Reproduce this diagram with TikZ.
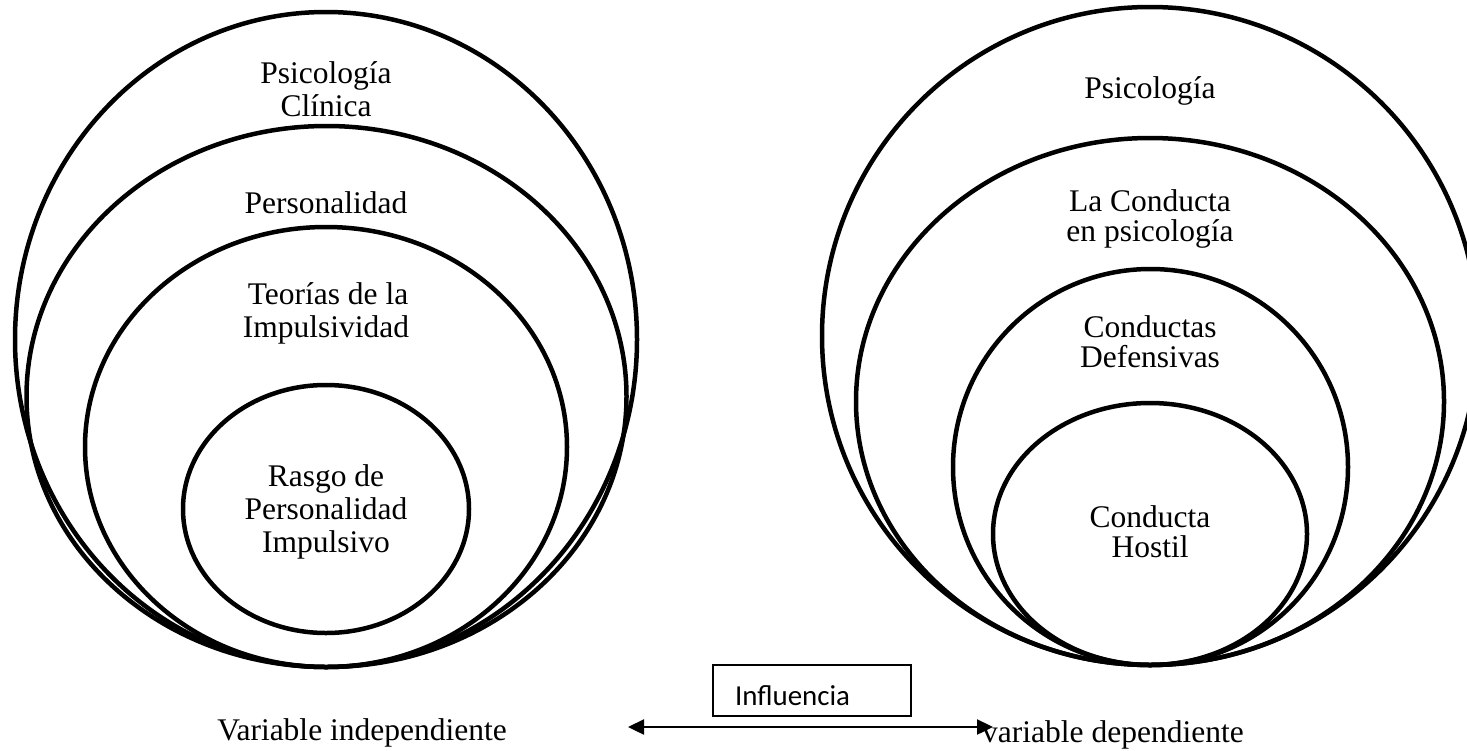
\documentclass[tikz,border=0pt]{standalone}
\usepackage{fontspec}
\setmainfont{Liberation Serif}
\newfontfamily\calib{Carlito}
\usetikzlibrary{arrows.meta}
\begin{document}
\begin{tikzpicture}[x=1pt,y=-1pt,
  ring/.style={draw=black,line width=4.5pt},
  lbl/.style={anchor=base,inner sep=0pt,font=\fontsize{31.5}{33}\selectfont},
  boxlbl/.style={draw=black,line width=1.6pt,font=\calib\fontsize{28.9}{30}\selectfont,
     minimum width=198pt,minimum height=51pt,text width=154pt,inner xsep=22pt,inner ysep=0pt,
     text height=29pt,text depth=0pt,align=left},
  influence/.style={line width=2.4pt,{Triangle[length=16pt,width=15pt]}-{Triangle[length=16pt,width=15pt]}}
]
\clip (0,0) rectangle (1467,750);
\fill[white] (0,0) rectangle (1467,750);

% Left group
\draw[ring] (326,339.5) ellipse [x radius=311, y radius=327.5];
\draw[ring] (326.5,396.5) ellipse [x radius=300, y radius=270.5];
\draw[ring] (326,447) ellipse [x radius=241, y radius=220];
\draw[ring] (326,509) ellipse [x radius=143, y radius=124];

\node[lbl] (l1a) at (326,83) {Psicología};
\node[lbl] (l1b) at (326,116) {Clínica};
\node[lbl] (l2) at (326,213) {Personalidad};
\node[lbl] (l3a) at (328,304) {Teorías de la};
\node[lbl] (l3b) at (326,337) {Impulsividad};
\node[lbl] (l4a) at (326,486) {Rasgo de};
\node[lbl] (l4b) at (326,519) {Personalidad};
\node[lbl] (l4c) at (326,552) {Impulsivo};

% Right group
\draw[ring] (1150,336) ellipse [x radius=328, y radius=329];
\draw[ring] (1150,401.5) ellipse [x radius=294, y radius=263.5];
\draw[ring] (1150.5,467) ellipse [x radius=197.5, y radius=198];
\draw[ring] (1150,534) ellipse [x radius=157, y radius=131];

\node[lbl] (r1) at (1150,98) {Psicología};
\node[lbl] (r2a) at (1150,211) {La Conducta};
\node[lbl] (r2b) at (1150,241) {en psicología};
\node[lbl] (r3a) at (1150,337) {Conductas};
\node[lbl] (r3b) at (1150,367) {Defensivas};
\node[lbl] (r4a) at (1150,527) {Conducta};
\node[lbl] (r4b) at (1150,557) {Hostil};

% Bottom
\node[lbl] (vi) at (362,740) {Variable independiente};
\node[lbl,anchor=base west] (vd) at (982,742) {variable dependiente};
\node[boxlbl] (infl) at (812,690.5) {Influencia};
\coordinate (al) at (628,727);
\coordinate (ar) at (993,727);
\draw[influence] (al) -- (ar);
\end{tikzpicture}
\end{document}
